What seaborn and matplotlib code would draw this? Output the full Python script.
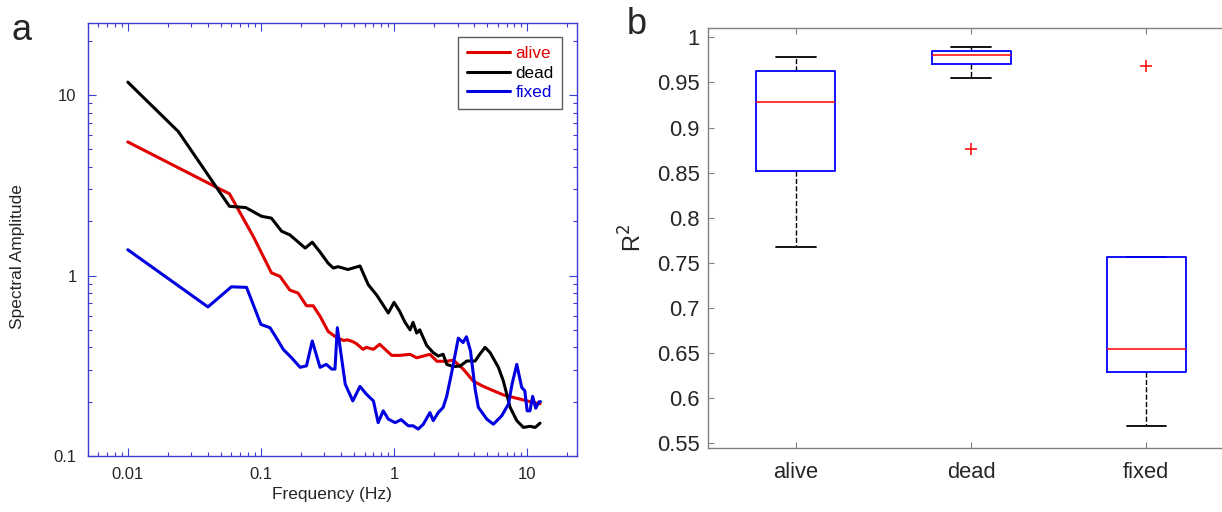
import numpy as np
import pandas as pd
import seaborn as sns
import matplotlib.pyplot as plt
from matplotlib.ticker import FixedLocator, FuncFormatter, LogLocator, NullFormatter

# --- data: spectra (panel a) ---
alive_f = [0.01, 0.049, 0.058, 0.0875, 0.12, 0.139, 0.165, 0.19, 0.22, 0.247, 0.278, 0.32, 0.36,
           0.38, 0.415, 0.45, 0.49, 0.52, 0.585, 0.62, 0.70, 0.78, 0.96, 1.1, 1.32, 1.48, 1.86,
           2.1, 2.49, 2.79, 3.31, 3.94, 4.69, 5.58, 6.63, 7.9, 10.0, 11.7, 12.5]
alive_a = [5.5, 3.02, 2.84, 1.65, 1.035, 0.99, 0.83, 0.80, 0.68, 0.68, 0.595, 0.49, 0.46,
           0.45, 0.437, 0.44, 0.43, 0.42, 0.39, 0.40, 0.39, 0.416, 0.361, 0.361, 0.366, 0.35, 0.366,
           0.335, 0.335, 0.34, 0.303, 0.26, 0.243, 0.23, 0.218, 0.211, 0.202, 0.196, 0.195]

dead_f = [0.01, 0.024, 0.058, 0.077, 0.101, 0.12, 0.143, 0.165, 0.215, 0.243, 0.278, 0.32, 0.35,
          0.38, 0.45, 0.555, 0.64, 0.74, 0.906, 1.0, 1.1, 1.21, 1.32, 1.39, 1.48, 1.56, 1.76,
          1.97, 2.15, 2.34, 2.49, 2.79, 3.14, 3.52, 4.07, 4.4, 4.83, 5.27, 6.08, 6.63, 7.45,
          8.36, 9.37, 10.5, 11.5, 12.5]
dead_a = [11.8, 6.27, 2.42, 2.38, 2.13, 2.08, 1.76, 1.68, 1.42, 1.53, 1.35, 1.17, 1.10,
          1.12, 1.08, 1.13, 0.89, 0.78, 0.62, 0.71, 0.635, 0.55, 0.50, 0.55, 0.48, 0.50, 0.41,
          0.374, 0.358, 0.366, 0.322, 0.313, 0.315, 0.336, 0.336, 0.366, 0.40, 0.374, 0.31, 0.26, 0.186,
          0.157, 0.144, 0.146, 0.144, 0.152]

fixed_f = [0.01, 0.040, 0.060, 0.078, 0.1, 0.117, 0.131, 0.147, 0.17, 0.197, 0.22, 0.243, 0.278,
           0.31, 0.34, 0.36, 0.375, 0.43, 0.49, 0.555, 0.62, 0.70, 0.76, 0.83, 0.906, 1.02, 1.13,
           1.28, 1.39, 1.52, 1.66, 1.86, 1.97, 2.15, 2.34, 2.49, 2.71, 3.04, 3.3, 3.5, 3.75, 4.07,
           4.3, 4.98, 5.58, 6.44, 7.24, 7.7, 8.36, 9.1, 9.6, 10.0, 10.5, 11.0, 11.6, 12.3, 12.6]
fixed_a = [1.39, 0.67, 0.866, 0.86, 0.536, 0.514, 0.45, 0.39, 0.35, 0.31, 0.316, 0.434, 0.31,
           0.322, 0.303, 0.303, 0.514, 0.25, 0.202, 0.243, 0.22, 0.202, 0.153, 0.178, 0.16, 0.153, 0.159,
           0.147, 0.147, 0.141, 0.15, 0.174, 0.157, 0.174, 0.186, 0.215, 0.29, 0.45, 0.425, 0.458, 0.383, 0.234,
           0.186, 0.16, 0.15, 0.167, 0.194, 0.25, 0.322, 0.24, 0.23, 0.178, 0.178, 0.214, 0.184, 0.2, 0.2]

# --- data: R^2 per condition (panel b) ---
groups = ['alive', 'dead', 'fixed']
r2_alive = [0.7675, 0.852, 0.928, 0.963, 0.9785]
r2_dead = [0.876, 0.9545, 0.970, 0.975, 0.980, 0.983, 0.985, 0.987, 0.9896]
r2_fixed = [0.569, 0.600, 0.6296, 0.640, 0.6544, 0.700, 0.7564, 0.7564, 0.9685]

line_colors = {'alive': '#e00000', 'dead': 'black', 'fixed': '#0000e0'}
axblue = '#3c3cd0'

sns.set_style('white')
plt.rcParams['font.family'] = ['Liberation Sans', 'DejaVu Sans']

spec = pd.concat([
    pd.DataFrame({'freq': alive_f, 'amp': alive_a, 'cond': 'alive'}),
    pd.DataFrame({'freq': dead_f, 'amp': dead_a, 'cond': 'dead'}),
    pd.DataFrame({'freq': fixed_f, 'amp': fixed_a, 'cond': 'fixed'}),
])
r2 = pd.concat([
    pd.DataFrame({'group': 'alive', 'r2': r2_alive}),
    pd.DataFrame({'group': 'dead', 'r2': r2_dead}),
    pd.DataFrame({'group': 'fixed', 'r2': r2_fixed}),
])

fig = plt.figure(figsize=(12.22, 5.12), dpi=100)
ax1 = fig.add_axes([0.0718, 0.1094, 0.4002, 0.8451])
ax2 = fig.add_axes([0.5796, 0.1244, 0.4302, 0.8203])

# panel a
sns.lineplot(data=spec, x='freq', y='amp', hue='cond', palette=line_colors,
             estimator=None, sort=False, lw=2.2, ax=ax1)
ax1.set_xscale('log')
ax1.set_yscale('log')
ax1.set_xlim(0.005, 23.6)
ax1.set_ylim(0.1, 25)
ax1.xaxis.set_major_locator(FixedLocator([0.01, 0.1, 1, 10]))
ax1.yaxis.set_major_locator(FixedLocator([0.1, 1, 10]))
ax1.xaxis.set_minor_locator(LogLocator(base=10, subs=np.arange(2, 10)))
ax1.yaxis.set_minor_locator(LogLocator(base=10, subs=np.arange(2, 10)))
fmt = FuncFormatter(lambda v, p: f'{v:g}')
ax1.xaxis.set_major_formatter(fmt)
ax1.yaxis.set_major_formatter(fmt)
ax1.xaxis.set_minor_formatter(NullFormatter())
ax1.yaxis.set_minor_formatter(NullFormatter())
ax1.tick_params(which='both', direction='in', top=True, right=True, bottom=True, left=True,
                color=axblue, labelsize=12)
ax1.tick_params(which='major', length=6, width=0.8, pad=8)
ax1.tick_params(which='minor', length=3, width=0.8)
for s in ax1.spines.values():
    s.set_color(axblue)
    s.set_linewidth(1.0)
ax1.set_xlabel('Frequency (Hz)', fontsize=12.5)
ax1.set_ylabel('Spectral Amplitude', fontsize=12.5)
ax1.xaxis.set_label_coords(0.5, -0.072)
ax1.yaxis.set_label_coords(-0.128, 0.46)
leg = ax1.legend(loc='upper right', bbox_to_anchor=(0.9706, 0.9677), borderaxespad=0,
                 fontsize=12.3, frameon=True, fancybox=False, edgecolor='#333333',
                 handlelength=2.5, handletextpad=0.35, labelspacing=0.28, borderpad=0.5)
leg.get_frame().set_linewidth(1.0)
for txt, c in zip(leg.get_texts(), groups):
    txt.set_color(line_colors[c])
for h in leg.get_lines():
    h.set_linewidth(2.2)

# panel b
sns.boxplot(data=r2, x='group', y='r2', order=groups, width=0.45, fill=False, whis=1.5,
            ax=ax2,
            boxprops=dict(color='#0000ff', linewidth=1.3, zorder=3),
            medianprops=dict(color='#ff0000', linewidth=1.1, zorder=3.1),
            whiskerprops=dict(color='black', linestyle='--', linewidth=1.0, zorder=2),
            capprops=dict(color='black', linewidth=1.3, zorder=2),
            flierprops=dict(marker='+', markeredgecolor='#ff0000', markerfacecolor='none',
                            markersize=8, markeredgewidth=1.1))
ax2.set_xlim(-0.5, 2.5)
ax2.set_ylim(0.5445, 1.01)
ax2.yaxis.set_major_locator(FixedLocator(np.arange(0.55, 1.001, 0.05)))
ax2.yaxis.set_major_formatter(FuncFormatter(lambda v, p: f'{round(v, 2):g}'))
ax2.set_xlabel('')
ax2.set_ylabel('R$^2$', fontsize=17)
ax2.yaxis.set_label_coords(-0.118, 0.5)
ax2.tick_params(which='both', direction='in', top=True, right=True, bottom=True, left=True,
                color='#808080', labelcolor='#262626', labelsize=15.8, length=4.5, width=0.8)
ax2.tick_params(axis='x', pad=10)
ax2.tick_params(axis='y', pad=6)
for s in ax2.spines.values():
    s.set_color('#808080')
    s.set_linewidth(1.0)

fig.text(22 / 1222, 1 - 30 / 512, 'a', fontsize=26, ha='center', va='center')
fig.text(637 / 1222, 1 - 25 / 512, 'b', fontsize=26, ha='center', va='center')

fig.savefig('out.png', dpi=100)
